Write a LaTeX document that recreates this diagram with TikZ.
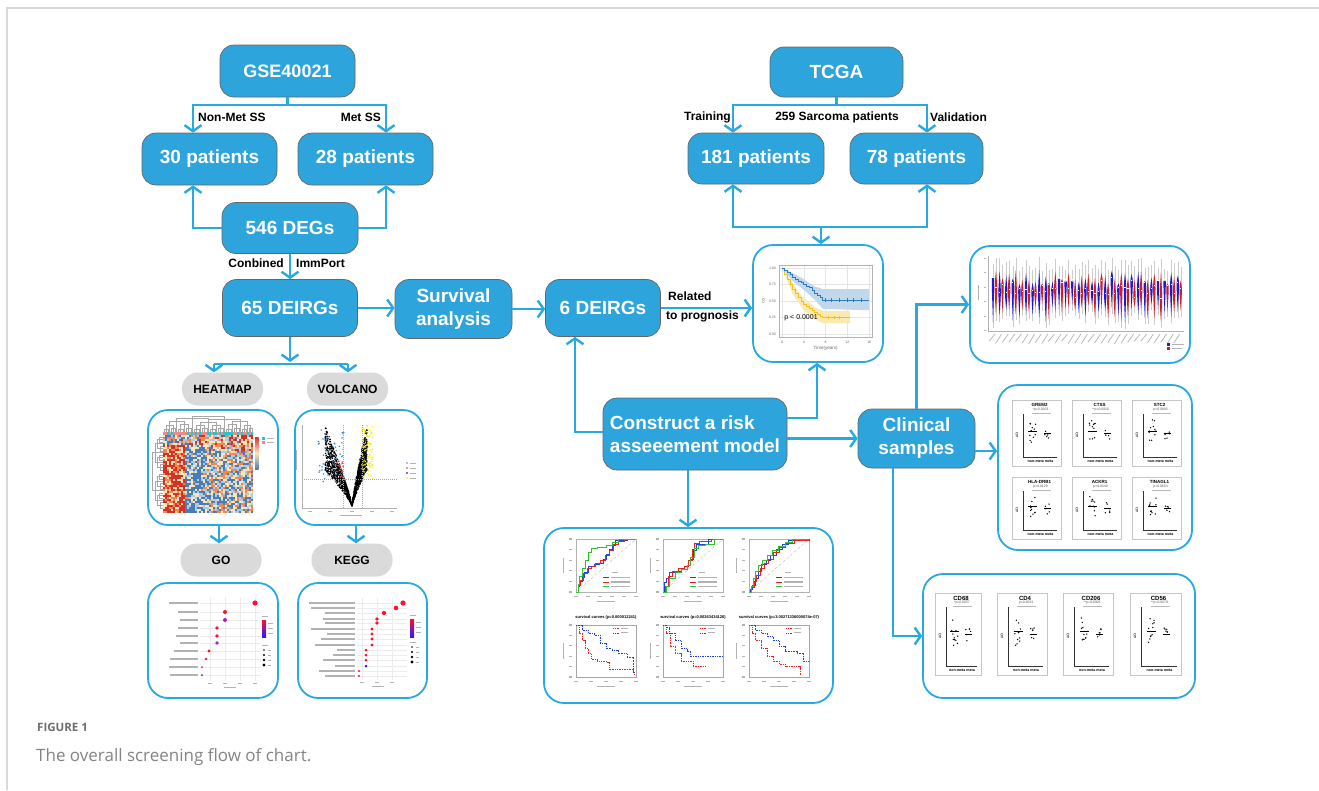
\documentclass[tikz,border=0pt]{standalone}
\usepackage{fontspec}
\setmainfont{Liberation Sans}
\newfontfamily\capfont{Open Sans}
\usetikzlibrary{arrows.meta}
\definecolor{boxblue}{HTML}{2EA4DC}
\definecolor{lineblue}{HTML}{27A9E1}
\definecolor{pillgrey}{HTML}{DADADA}
\definecolor{hm1}{HTML}{D73027}
\definecolor{hm2}{HTML}{F4874F}
\definecolor{hm3}{HTML}{FBE6B4}
\definecolor{hm4}{HTML}{A9CBE3}
\definecolor{hm5}{HTML}{4A7CB8}
\definecolor{ann0}{HTML}{F08A8A}
\definecolor{ann1}{HTML}{1FC8CC}
\definecolor{kmblue}{HTML}{2E7BC0}
\definecolor{kmyellow}{HTML}{F0C020}
\definecolor{vyellow}{HTML}{F5F000}
\definecolor{vblue}{HTML}{3A8FD0}
\definecolor{vred}{HTML}{E03030}
\definecolor{gored}{HTML}{FF1030}
\definecolor{gopurple}{HTML}{B01FB8}
\definecolor{goviolet}{HTML}{8A2BE2}
\definecolor{goblue}{HTML}{2020FF}
\definecolor{rocblue}{HTML}{2040E0}
\definecolor{rocred}{HTML}{F02020}
\definecolor{rocgreen}{HTML}{30C030}
\definecolor{violb}{HTML}{1A1AD8}
\definecolor{violr}{HTML}{D81A1A}
\definecolor{capgrey}{HTML}{6E6E6E}

\tikzset{
 bluebox/.style={draw=black!60, line width=0.7pt, fill=boxblue, rounded corners=14pt, text=white, font=\bfseries\fontsize{19}{23}\selectfont, inner sep=0pt, align=center},
 pill/.style={fill=pillgrey, rounded corners=16pt, font=\bfseries\fontsize{12}{14}\selectfont, minimum width=81pt, minimum height=33pt, inner sep=0pt},
 panel/.style={draw=lineblue, line width=1.8pt, rounded corners=20pt, fill=white, inner sep=0pt},
 conn/.style={draw=lineblue, line width=2.4pt},
 arr/.style={conn, -{Straight Barb[length=6pt,width=17pt]}},
 lbl/.style={font=\bfseries\fontsize{12}{14}\selectfont, inner sep=0pt},
 ticklbl/.style={font=\fontsize{3.5}{4}\selectfont, text=black!60, inner sep=0pt},
}

\newcommand\rocbox[5]{%
\begin{scope}[shift={(#1,#2)}, x=60pt, y=53pt]
 \draw[gray!60, line width=0.35pt] (0,0) rectangle (1,1);
 \draw[gray!60, densely dashed, line width=0.3pt] (0,0) -- (1,1);
 \draw[rocblue, line width=0.6pt] plot[const plot] coordinates {#3};
 \draw[rocred, line width=0.6pt] plot[const plot] coordinates {#4};
 \draw[rocgreen, line width=0.6pt] plot[const plot] coordinates {#5};
 \fill[gray!60] (0.6,0.37) rectangle (0.7,0.35);
 \draw[rocblue, line width=0.6pt] (0.45,0.28) -- (0.55,0.28);
 \draw[rocred, line width=0.6pt] (0.45,0.19) -- (0.55,0.19);
 \draw[rocgreen, line width=0.6pt] (0.45,0.10) -- (0.55,0.10);
 \foreach \yy in {0.28,0.19,0.10}{\fill[gray!60] (0.58,\yy-0.012) rectangle (0.9,\yy+0.012);}
 \foreach \tq in {0,0.2,0.4,0.6,0.8,1}{\fill[gray!60] (\tq-0.03,-0.07) rectangle (\tq+0.03,-0.1);}
 \foreach \tq in {0,0.2,0.4,0.6,0.8,1}{\fill[gray!60] (-0.12,\tq-0.01) rectangle (-0.07,\tq+0.01);}
 \fill[gray!60] (0.35,-0.17) rectangle (0.65,-0.19);
 \fill[gray!60] (-0.22,0.35) rectangle (-0.2,0.65);
\end{scope}}

\newcommand\kmbox[4]{%
\begin{scope}[shift={(#1,#2)}, x=60pt, y=52pt]
 \draw[gray!70, line width=0.35pt] (0,0) rectangle (1,1);
 \draw[rocred, line width=0.6pt, dash pattern=on 1pt off 0.7pt] plot[const plot] coordinates {#3};
 \draw[rocblue, line width=0.6pt, dash pattern=on 1pt off 0.7pt] plot[const plot] coordinates {#4};
 \draw[rocred, line width=0.5pt, dash pattern=on 1pt off 0.7pt] (0.62,0.93) -- (0.72,0.93);
 \draw[rocblue, line width=0.5pt, dash pattern=on 1pt off 0.7pt] (0.62,0.85) -- (0.72,0.85);
 \fill[gray!60] (0.75,0.92) rectangle (0.87,0.945);
 \fill[gray!60] (0.75,0.84) rectangle (0.87,0.865);
 \foreach \tq in {0,0.25,0.5,0.75,1}{\fill[gray!60] (\tq-0.03,-0.07) rectangle (\tq+0.03,-0.1);}
 \foreach \tq in {0,0.2,0.4,0.6,0.8,1}{\fill[gray!60] (-0.12,\tq-0.01) rectangle (-0.07,\tq+0.01);}
 \fill[gray!60] (0.35,-0.17) rectangle (0.65,-0.19);
 \fill[gray!60] (-0.22,0.35) rectangle (-0.2,0.65);
\end{scope}}

\newcommand\qplot[8]{%
\begin{scope}[shift={(#1,#2)}]
 \draw[gray!45, line width=0.5pt] (0,0) rectangle (#3,#4);
 \node[font=\bfseries\fontsize{#8}{#8}\selectfont, inner sep=0pt] at ({#3/2+3},5) {#5};
 \node[font=\fontsize{3.4}{4}\selectfont, text=black!65, inner sep=0pt] at ({#3/2+4},10) {#6};
 \draw[gray!55, line width=0.3pt] ({#3/2-5},12.8) -- ({#3/2+14},12.8);
 \draw[black!80, line width=0.45pt] (11,14) -- (11,{#4-9}) -- ({#3-4},{#4-9});
 \node[rotate=90, font=\fontsize{3.4}{4}\selectfont, inner sep=0pt] at (5,{#4/2+2}) {ΔCt};
 \node[font=\bfseries\fontsize{3.6}{4}\selectfont, inner sep=0pt] at ({#3/2+4},{#4-4.5}) {non-meta meta};
 \pgfmathsetseed{#7}
 \foreach \kk in {1,...,11}{\fill ({0.42*#3+rand*3.5},{#4*0.47+rand*#4*0.17}) circle (0.75);}
 \foreach \kk in {1,...,6}{\fill ({0.72*#3+rand*2.5},{#4*0.5+rand*#4*0.1}) circle (0.75);}
 \draw[line width=0.4pt] ({0.42*#3-4.5},{#4*0.47}) -- ({0.42*#3+4.5},{#4*0.47});
 \draw[line width=0.4pt] ({0.72*#3-3.5},{#4*0.5}) -- ({0.72*#3+3.5},{#4*0.5});
\end{scope}}

\begin{document}
\begin{tikzpicture}[x=1pt,y=-1pt]
\useasboundingbox (0,0) rectangle (1319,790);
\fill[white] (0,0) rectangle (1319,790);
\draw[gray!30, line width=1.2pt] (7,790) -- (7,8) -- (1319,8);

% ---------- panels ----------
\node[panel, minimum width=130pt, minimum height=117pt] (km) at (818,303.5) {};
\node[panel, minimum width=130pt, minimum height=115pt] (heat) at (213,467.5) {};
\node[panel, minimum width=128pt, minimum height=115pt] (volc) at (359,467.5) {};
\node[panel, minimum width=130pt, minimum height=115pt] (go) at (213,640.5) {};
\node[panel, minimum width=129pt, minimum height=115pt] (kegg) at (362.5,640.5) {};
\node[panel, minimum width=289pt, minimum height=175pt] (roc) at (688.5,615.5) {};
\node[panel, minimum width=220pt, minimum height=117pt] (viol) at (1080,304.5) {};
\node[panel, minimum width=194pt, minimum height=165pt] (qpcr) at (1095,467.5) {};
\node[panel, minimum width=272pt, minimum height=124pt] (cdp) at (1059,636) {};

% ---------- KM plot ----------
\begin{scope}[shift={(782,334)}, x=5.45pt, y=66pt]
 \foreach \tq in {0,4,8,12,16}{\draw[gray!20, line width=0.25pt] (\tq,-0.05) -- (\tq,1.05);}
 \foreach \s in {0,0.25,0.5,0.75,1}{\draw[gray!20, line width=0.25pt] (-0.5,\s) -- (16.5,\s);}
 \fill[kmblue!30] (0,1) -- (2,0.92) -- (4,0.83) -- (6,0.72) -- (7.5,0.68) -- (16,0.68) -- (16,0.36) -- (7.5,0.38) -- (6,0.52) -- (4,0.67) -- (2,0.8) -- cycle;
 \fill[kmyellow!35] (0,1) -- (2,0.76) -- (4,0.54) -- (6,0.41) -- (7.5,0.35) -- (12.5,0.35) -- (12.5,0.16) -- (7.5,0.16) -- (6,0.23) -- (4,0.36) -- (2,0.6) -- cycle;
 \draw[kmyellow, line width=0.9pt] plot[const plot] coordinates {(0,1) (0.5,0.9) (1,0.82) (1.5,0.75) (2,0.68) (2.5,0.61) (3,0.55) (3.5,0.5) (4,0.45) (4.5,0.41) (5,0.38) (5.5,0.35) (6,0.32) (6.5,0.29) (7,0.27) (7.5,0.25) (12.5,0.25)};
 \draw[kmblue, line width=0.9pt] plot[const plot] coordinates {(0,1) (0.5,0.97) (1,0.93) (1.5,0.9) (2,0.86) (2.5,0.83) (3,0.8) (3.5,0.78) (4,0.75) (4.5,0.72) (5,0.7) (5.5,0.66) (6,0.62) (6.5,0.58) (7,0.55) (7.5,0.51) (16,0.51)};
 \foreach \tq in {8,9,10.5,12,13,14.5}{\draw[kmblue, line width=0.5pt] (\tq,0.48) -- (\tq,0.54);}
 \foreach \tq in {8.5,9.5,10.5}{\draw[kmyellow, line width=0.5pt] (\tq,0.22) -- (\tq,0.28);}
 \draw[gray!60, line width=0.3pt] (-0.5,-0.05) rectangle (16.5,1.05);
 \foreach \s/\lab in {1/1.00,0.75/0.75,0.5/0.50,0.25/0.25,0/0.00}{\node[ticklbl, anchor=east] at (-1.1,\s) {\lab};}
 \foreach \tq in {0,4,8,12,16}{\node[ticklbl] at (\tq,-0.12) {\tq};}
 \node[ticklbl, font=\fontsize{4.5}{5}\selectfont] at (8,-0.22) {Time(years)};
 \node[ticklbl, rotate=90] at (-3.4,0.5) {OS};
 \node[font=\fontsize{7}{8}\selectfont, anchor=west, inner sep=0pt] at (0.4,0.25) {p < 0.0001};
\end{scope}

% ---------- heatmap ----------
\pgfmathsetseed{11}
\foreach \i in {0,...,44}{
 \foreach \j in {0,...,38}{
  \pgfmathsetmacro\hb{(\i<11) ? ((\j<5) ? 0.05 : 0.5) : ((\i<21) ? ((\j<5) ? 0.15 : -0.22) : ((\j<8) ? 0.22 : -0.02))}
  \pgfmathsetmacro\hv{rnd+\hb}
  \pgfmathtruncatemacro\hc{(\hv>1.0) ? 1 : ((\hv>0.75) ? 2 : ((\hv>0.5) ? 3 : ((\hv>0.28) ? 4 : 5)))}
  \fill[hm\hc] ({163+\i*2},{435+\j*2}) rectangle ++(2.05,2.05);
 }}
\foreach \i in {0,...,44}{
  \pgfmathtruncatemacro\hc{(rnd>0.55) ? 1 : 0}
  \fill[ann\hc] ({163+\i*2},432) rectangle ++(2.05,2.6);
}
\foreach \pa/\pb/\ph in {164/168/429, 171/175/428, 166/173/425, 178/183/429, 186/191/428, 180/188/424, 194/199/429, 202/207/428, 196/204/425, 210/215/429, 218/223/428, 212/220/425, 226/231/429, 234/239/428, 228/236/424, 242/246/429, 249/252/428, 244/250/425, 169/184/421, 200/216/422, 232/247/421, 176/208/418, 208/240/419, 192/224/416}
 {\draw[gray!70, line width=0.3pt] (\pa,431.5) |- (\pb,\ph) -- (\pb,431.5);}
\foreach \pa/\pb/\ph in {437/442/159, 446/451/160, 439/448/157, 455/460/159, 464/470/160, 457/467/157, 474/479/159, 483/489/160, 476/486/157, 493/498/159, 502/508/160, 495/505/157, 443/462/155, 481/500/155, 452/490/152.5}
 {\draw[gray!70, line width=0.3pt] (162.5,\pa) -| (\ph,\pb) -- (162.5,\pb);}
\shade[top color=hm1, bottom color=hm5, middle color=hm3] (255,437) rectangle (258.5,469);
\fill[ann1] (262,437) rectangle (265,440);
\fill[ann0] (262,441) rectangle (265,444);
\fill[gray!60] (267,438) rectangle (274,439);
\fill[gray!60] (267,442) rectangle (274,443);

% ---------- volcano ----------
\draw[gray!60, line width=0.3pt] (302,425) -- (302,508) -- (397,508);
\pgfmathsetseed{21}
\foreach \kk in {1,...,1300}{
  \pgfmathsetmacro\xx{rand}
  \pgfmathsetmacro\hh{80*(abs(\xx)^0.85)*(0.45+0.55*rnd)}
  \fill ({352+\xx*(\xx<0 ? 27 : 15)},{506-\hh}) circle (0.8);
}
\foreach \kk in {1,...,45}{\fill[vblue] ({331+rand*13},{456+rand*26}) circle (0.85);}
\foreach \kk in {1,...,14}{\fill[vred] ({340+rand*5},{470+rand*10}) circle (0.85);}
\foreach \kk in {1,...,75}{\fill[vyellow] ({367+rand*6},{452+rand*27}) circle (0.85);}
\draw[gray!70, line width=0.3pt, dash pattern=on 1pt off 1pt] (302,479) -- (397,479);
\draw[gray!70, line width=0.3pt, dash pattern=on 1pt off 1pt] (343,425) -- (343,508);
\draw[gray!70, line width=0.3pt, dash pattern=on 1pt off 1pt] (362,425) -- (362,508);
\foreach \yy/\dc in {463/vblue,468/vred,473/black,478/vyellow}{\fill[\dc] (407,\yy) circle (0.9); \fill[gray!60] (410,\yy-0.5) rectangle (416,\yy+0.5);}
\foreach \xx in {310,330,352,372,392}{\fill[gray!60] (\xx-2,511) rectangle (\xx+2,512);}
\fill[gray!60] (340,515) rectangle (362,516);
\fill[gray!60] (296,450) rectangle (297,470);

% ---------- GO ----------
\foreach \xx in {210,225,240,255}{\draw[gray!15, line width=0.3pt] (\xx,597) -- (\xx,681);}
\foreach \yy/\xx/\dc/\dr/\lw in {603/255/gored/2.6/29, 612/225/gored/2.0/20, 620/225/gopurple/2.0/18, 628/217/gored/1.8/20, 636/217/gored/1.8/22, 643/217/goviolet/1.8/18, 651/209/gored/1.6/24, 659/206/gored/1.4/28, 667/202/gored/1.0/29, 675/202/goblue/1.0/28}{
 \draw[gray!15, line width=0.3pt] (200,\yy) -- (261,\yy);
 \fill[gray!60] ({198-\lw},\yy-0.6) rectangle (198,\yy+0.6);
 \fill[\dc] (\xx,\yy) circle (\dr);
}
\foreach \xx in {210,225,240,255}{\fill[gray!60] (\xx-2,683) rectangle (\xx+2,684);}
\fill[gray!60] (224,687) rectangle (236,688);
\fill[gray!60] (262,616) rectangle (268,617);
\shade[top color=gored, bottom color=goblue] (262,620) rectangle (266,637);
\foreach \yy in {623,628,633}{\fill[gray!60] (268,\yy) rectangle (273,\yy+0.8);}
\fill[gray!60] (262,645) rectangle (268,646);
\foreach \yy/\dr in {650/0.8,655/1.1,660/1.4,665/1.7}{\fill (264,\yy) circle (\dr); \fill[gray!60] (268,\yy-0.4) rectangle (271,\yy+0.4);}

% ---------- KEGG ----------
\foreach \xx in {362,377,392}{\draw[gray!15, line width=0.3pt] (\xx,598) -- (\xx,680);}
\foreach \yy/\xx/\dc/\dr/\lw in {603/403/gored/2.6/46, 608/396/gored/2.3/44, 613/384/gored/2.1/30, 619/377/gored/1.9/32, 623/377/gored/1.9/30, 629/372/gored/1.7/44, 634/372/gored/1.7/28, 639/372/gored/1.7/34, 645/372/gored/1.7/40, 650/366/gored/1.5/18, 655/366/gored/1.5/22, 660/366/gored/1.5/32, 666/366/goblue/1.5/20, 671/359/gored/1.1/36, 676/359/gored/1.1/30}{
 \draw[gray!15, line width=0.3pt] (357,\yy) -- (407,\yy);
 \fill[gray!60] ({355-\lw},\yy-0.55) rectangle (355,\yy+0.55);
 \fill[\dc] (\xx,\yy) circle (\dr);
}
\foreach \xx in {362,377,392}{\fill[gray!60] (\xx-2,682) rectangle (\xx+2,683);}
\fill[gray!60] (372,686) rectangle (384,687);
\fill[gray!60] (410,615) rectangle (416,616);
\shade[top color=gored, bottom color=goblue] (410,619) rectangle (414,637);
\foreach \yy in {622,627,632}{\fill[gray!60] (416,\yy) rectangle (421,\yy+0.8);}
\fill[gray!60] (410,642) rectangle (416,643);
\foreach \yy/\dr in {647/0.8,652/1.1,657/1.4,662/1.7}{\fill (412,\yy) circle (\dr); \fill[gray!60] (416,\yy-0.4) rectangle (419,\yy+0.4);}

% ---------- ROC / survival panel ----------
\rocbox{576}{592}{(0,0) (0.03,0.1) (0.06,0.2) (0.1,0.28) (0.13,0.38) (0.2,0.48) (0.3,0.52) (0.38,0.55) (0.45,0.62) (0.5,0.72) (0.55,0.8) (0.6,0.88) (0.65,0.98) (0.85,1) (1,1)}{(0,0) (0.03,0.12) (0.07,0.22) (0.12,0.35) (0.18,0.45) (0.25,0.48) (0.32,0.55) (0.4,0.6) (0.48,0.7) (0.55,0.78) (0.62,0.9) (0.7,0.95) (0.8,1) (1,1)}{(0,0) (0.03,0.15) (0.06,0.3) (0.1,0.45) (0.15,0.6) (0.2,0.75) (0.25,0.82) (0.35,0.85) (0.5,0.88) (0.6,0.93) (0.7,1) (1,1)}
\rocbox{663}{592}{(0,0) (0.02,0.18) (0.05,0.25) (0.1,0.38) (0.2,0.4) (0.3,0.42) (0.4,0.5) (0.45,0.62) (0.5,0.78) (0.55,0.9) (0.6,0.9) (0.75,1) (1,1)}{(0,0) (0.03,0.1) (0.08,0.3) (0.15,0.4) (0.25,0.45) (0.35,0.48) (0.42,0.6) (0.48,0.8) (0.52,0.92) (0.6,0.95) (0.8,1) (1,1)}{(0,0) (0.05,0.1) (0.1,0.25) (0.2,0.38) (0.3,0.42) (0.4,0.5) (0.45,0.65) (0.52,0.82) (0.58,0.88) (0.7,0.9) (0.85,1) (1,1)}
\rocbox{749}{592}{(0,0) (0.02,0.05) (0.05,0.12) (0.1,0.25) (0.15,0.4) (0.2,0.52) (0.28,0.6) (0.35,0.7) (0.45,0.8) (0.55,0.9) (0.65,0.97) (0.8,1) (1,1)}{(0,0) (0.03,0.08) (0.08,0.2) (0.12,0.32) (0.18,0.45) (0.25,0.55) (0.32,0.62) (0.4,0.75) (0.5,0.85) (0.6,0.92) (0.75,0.98) (1,1)}{(0,0) (0.03,0.1) (0.07,0.25) (0.1,0.4) (0.15,0.5) (0.22,0.6) (0.3,0.7) (0.38,0.78) (0.48,0.86) (0.6,0.94) (0.72,1) (1,1)}
\kmbox{576}{677}{(0,1) (0.05,0.85) (0.1,0.7) (0.15,0.55) (0.2,0.45) (0.25,0.35) (0.35,0.3) (0.5,0.28) (0.55,0.15) (0.9,0.15) (0.95,0.1) (0.97,0.05) (0.98,0.05)}{(0,1) (0.1,0.9) (0.2,0.85) (0.3,0.8) (0.4,0.65) (0.5,0.55) (0.6,0.52) (0.7,0.45) (0.85,0.38) (0.95,0.3) (0.96,0.1) (0.97,0.1)}
\kmbox{663}{677}{(0,1) (0.05,0.85) (0.12,0.6) (0.2,0.45) (0.3,0.3) (0.45,0.3) (0.5,0.2) (0.7,0.2)}{(0,1) (0.05,0.95) (0.1,0.85) (0.2,0.7) (0.3,0.55) (0.4,0.5) (0.45,0.4) (1,0.4)}
\kmbox{749}{677}{(0,1) (0.05,0.85) (0.1,0.7) (0.2,0.55) (0.3,0.4) (0.4,0.3) (0.5,0.25) (0.6,0.2) (0.8,0.2) (0.85,0.05) (0.86,0.05)}{(0,1) (0.1,0.9) (0.2,0.85) (0.3,0.78) (0.4,0.7) (0.5,0.6) (0.6,0.5) (0.8,0.45) (0.9,0.3) (1,0.3)}
\node[font=\bfseries\fontsize{4}{5}\selectfont, inner sep=0pt] (t1) at (606,617) {survival curves (p=0.000012241)};
\node[font=\bfseries\fontsize{4}{5}\selectfont, inner sep=0pt] (t2) at (693,617) {survival curves (p=0.00263434126)};
\node[font=\bfseries\fontsize{4}{5}\selectfont, inner sep=0pt] (t3) at (779,617) {survival curves (p=3.00271336000074e-07)};

% ---------- violin panel ----------
\draw[gray!60, line width=0.3pt] (988,256) -- (988,331) -- (1184,331);
\pgfmathsetseed{5}
\foreach \kk in {0,...,28}{
 \pgfmathsetmacro\xb{993+6.6*\kk}
 \pgfmathsetmacro\ta{257+rnd*14}
 \pgfmathsetmacro\ba{310+rnd*20}
 \pgfmathsetmacro\ma{285+rand*9}
 \pgfmathsetmacro\tb{257+rnd*14}
 \pgfmathsetmacro\bb{310+rnd*20}
 \pgfmathsetmacro\mb{289+rand*9}
 \draw[gray!40, line width=0.4pt] (\xb,\ta) -- (\xb,\ba);
 \draw[gray!40, line width=0.4pt] (\xb+2.9,\tb) -- (\xb+2.9,\bb);
 \fill[violb] (\xb,\ta+13) .. controls (\xb+1.6,\ma) .. (\xb,\ba-6) .. controls (\xb-1.6,\ma) .. (\xb,\ta+13);
 \fill[violr] (\xb+2.9,\tb+13) .. controls (\xb+4.5,\mb) .. (\xb+2.9,\bb-6) .. controls (\xb+1.3,\mb) .. (\xb+2.9,\tb+13);
 \draw[white, line width=0.6pt] (\xb-0.6,\ma) -- (\xb+0.6,\ma);
 \draw[white, line width=0.6pt] (\xb+2.3,\mb) -- (\xb+3.5,\mb);
 \draw[gray!60, line width=0.7pt] (\xb+2,334) -- ++(-6,{7+3*rnd});
}
\foreach \yy in {258,272,287,301,316,330}{\fill[gray!60] (984,\yy-0.4) rectangle (986,\yy+0.4);}
\fill[gray!60] (978,285) rectangle (979,300);
\fill[violb] (1167,343) rectangle (1170,346);
\fill[violr] (1167,347) rectangle (1170,350);
\fill[gray!60] (1172,344) rectangle (1184,345);
\fill[gray!60] (1172,348) rectangle (1182,349);

% ---------- qPCR panel ----------
\qplot{1012}{400}{49}{66}{GREM2}{*p=0.0263}{31}{4.5}
\qplot{1072}{400}{49}{66}{CTSS}{**p=0.0016}{32}{4.5}
\qplot{1132}{400}{49}{66}{STC2}{p=0.0905}{33}{4.5}
\qplot{1012}{477}{49}{62}{HLA-DRB1}{p=0.0129}{34}{4.5}
\qplot{1072}{477}{49}{62}{ACKR1}{p=0.0349}{35}{4.5}
\qplot{1132}{477}{49}{62}{TINAGL1}{p=0.0654}{36}{4.5}

% ---------- CD panel ----------
\qplot{935}{593}{46}{82}{CD68}{*p=0.0057}{41}{6}
\qplot{997}{593}{50}{82}{CD4}{p=0.2633}{42}{6}
\qplot{1063}{593}{50}{82}{CD206}{**p=0.0006}{43}{6}
\qplot{1130}{593}{51}{82}{CD56}{**p=0.0079}{44}{6}

% ---------- flow boxes ----------
\node[bluebox, minimum width=135pt, minimum height=52pt, font=\bfseries\fontsize{18}{22}\selectfont] (gse) at (287.5,71) {GSE40021};
\node[bluebox, minimum width=135pt, minimum height=52pt] (p30) at (209.5,159) {30 patients};
\node[bluebox, minimum width=135pt, minimum height=52pt] (p28) at (365.5,159) {28 patients};
\node[bluebox, minimum width=136pt, minimum height=51pt] (deg) at (290,228) {546 DEGs};
\node[bluebox, minimum width=135pt, minimum height=57pt] (dei) at (290,308) {65 DEIRGs};
\node[bluebox, minimum width=117pt, minimum height=59pt] (surv) at (453.5,309) {Survival\\analysis};
\node[bluebox, minimum width=115pt, minimum height=57pt] (six) at (603,308) {6 DEIRGs};
\node[bluebox, minimum width=133pt, minimum height=50pt] (tcga) at (836.5,72) {TCGA};
\node[bluebox, minimum width=136pt, minimum height=51pt] (p181) at (756,158.5) {181 patients};
\node[bluebox, minimum width=133pt, minimum height=51pt] (p78) at (916.5,158.5) {78 patients};
\node[bluebox, minimum width=184pt, minimum height=72pt, align=left] (cons) at (695,434) {Construct a risk\\asseeement model};
\node[bluebox, minimum width=117pt, minimum height=59pt] (clin) at (916.5,438.5) {Clinical\\samples};

\node[pill] (hmp) at (222.5,389) {HEATMAP};
\node[pill] (vop) at (347.5,389) {VOLCANO};
\node[pill] (gop) at (221,560) {GO};
\node[pill] (kgp) at (352,560) {KEGG};

% ---------- connectors ----------
\coordinate (gsej) at (287.5,105);
\draw[conn] (gse.south) -- (gsej);
\draw[arr] (gsej) -| ([xshift=-16.5pt]p30.north);
\draw[arr] (gsej) -| ([xshift=20.5pt]p28.north);
\node[lbl, anchor=west] (lnm) at (198,117) {Non-Met SS};
\node[lbl, anchor=east] (lm) at (381,117) {Met SS};
\draw[arr] (deg.west) -| ([xshift=-16.5pt]p30.south);
\draw[arr] (deg.east) -| ([xshift=20.5pt]p28.south);
\draw[arr] (deg.south) -- (deg.south |- dei.north);
\node[lbl, anchor=east] (lc) at (284,263) {Conbined};
\node[lbl, anchor=west] (li) at (296,263) {ImmPort};

\draw[arr] (dei.east) -- (dei.east -| surv.west);
\draw[arr] (surv.east) -- (surv.east -| six.west);
\draw[arr] (six.east) -- (six.east -| km.west);
\node[lbl, anchor=west] (lr1) at (668,296) {Related};
\node[lbl, anchor=west] (lr2) at (666,316) {to prognosis};

\coordinate (dj) at (290,362);
\coordinate (hl) at (214,364);
\coordinate (hr) at (348,364);
\draw[arr] (dei.south) -- (dj);
\draw[conn] (hl) -- (hr);
\draw[arr] (hl) -- (hl |- hmp.north);
\draw[arr] (hr) -- (hr |- vop.north);
\draw[arr] ([xshift=6pt]heat.south) -- ([xshift=6pt]heat.south |- gop.north);
\draw[arr] ([xshift=-3pt]volc.south) -- ([xshift=-3pt]volc.south |- kgp.north);

\coordinate (tj1) at (836.5,105);
\draw[conn] (tcga.south) -- (tj1);
\draw[arr] (tj1) -| ([xshift=-23pt]p181.north);
\draw[arr] (tj1) -| ([xshift=10.5pt]p78.north);
\node[lbl, anchor=east] (ltr) at (731,117) {Training};
\node[lbl] (lsar) at (837,117) {259 Sarcoma patients};
\node[lbl, anchor=west] (lval) at (930,117) {Validation};
\coordinate (tj2) at (821,227);
\draw[arr] (tj2) -| ([xshift=-23pt]p181.south);
\draw[arr] (tj2) -| ([xshift=10.5pt]p78.south);
\draw[arr] (tj2) -- (tj2 |- km.north);

\draw[arr] ([yshift=2pt]cons.west) -| ([xshift=-28pt]six.south);
\draw[arr] ([yshift=16pt]cons.east) -| ([xshift=-1pt]km.south);
\draw[arr] (cons.east |- clin.west) -- (clin.west);
\draw[arr] ([xshift=-7pt]cons.south) -- ([xshift=-7pt]cons.south |- roc.north);
\draw[arr] (clin.north) |- (viol.west);
\draw[arr] ([yshift=-12.5pt]clin.east) -- ([yshift=-12.5pt]clin.east -| qpcr.west);
\draw[arr] ([xshift=-23.5pt]clin.south) |- (cdp.west);

% ---------- caption ----------
\node[anchor=west, font=\capfont\bfseries\fontsize{11.5}{13}\selectfont, text=capgrey, inner sep=0pt] (fig) at (37,727) {FIGURE 1};
\node[anchor=base west, font=\capfont\fontsize{17}{20}\selectfont, text=capgrey!85, inner sep=0pt] (capt) at (36,761) {The overall screening flow of chart.};
\end{tikzpicture}
\end{document}
